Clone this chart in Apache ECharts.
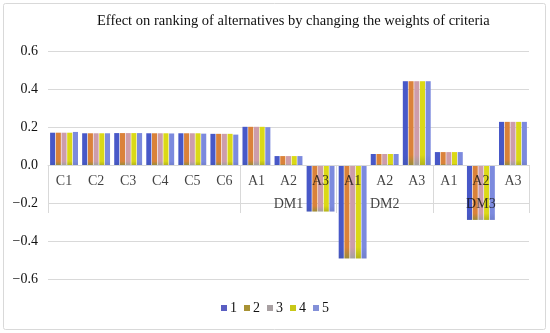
<!DOCTYPE html>
<html>
<head>
<meta charset="utf-8">
<script src="https://cdn.jsdelivr.net/npm/echarts@6/dist/echarts.min.js"></script>
<style>
html,body{margin:0;padding:0;background:#fff;}
#chart{width:550px;height:333px;}
</style>
</head>
<body>
<div id="chart"></div>
<script>
// ---- data ----
var categories = ['C1','C2','C3','C4','C5','C6','A1','A2','A3','A1','A2','A3','A1','A2','A3'];
var groupLabels = {7:'DM1', 10:'DM2', 13:'DM3'};
var groupBoundaries = [0, 6, 9, 12];
var seriesNames = ['1','2','3','4','5'];
var s1 = [0.170,0.167,0.168,0.167,0.167,0.164,0.201,0.047,-0.245,-0.492,0.058,0.441,0.068,-0.289,0.227];
var s2 = [0.170,0.167,0.168,0.167,0.167,0.164,0.201,0.047,-0.245,-0.492,0.058,0.441,0.068,-0.289,0.227];
var s3 = [0.170,0.167,0.168,0.167,0.167,0.164,0.201,0.047,-0.245,-0.492,0.058,0.441,0.068,-0.289,0.227];
var s4 = [0.170,0.167,0.168,0.167,0.167,0.164,0.201,0.047,-0.245,-0.492,0.058,0.441,0.068,-0.289,0.227];
var s5 = [0.174,0.167,0.168,0.166,0.165,0.160,0.199,0.047,-0.245,-0.492,0.058,0.441,0.068,-0.289,0.227];
var yTicks = {min:-0.6, max:0.6, interval:0.2};

var seriesData = [s1,s2,s3,s4,s5];
var mainColors = ['#4858c8','#da823a','#cd9dab','#dbd916','#7c8ade'];
var baseColors = ['#4456b8','#9c8c3a','#a4a0a0','#b4b41c','#7280cc'];
var legendColors = ['#5a5ec2','#a89234','#a8a0a2','#c8c818','#8390d8'];

function grad(i){
  return new echarts.graphic.LinearGradient(0,0,0,1,[
    {offset:0,color:mainColors[i]},
    {offset:0.88,color:mainColors[i]},
    {offset:1,color:baseColors[i]}
  ]);
}

var serif = 'Liberation Serif, Times New Roman, serif';
var chart = echarts.init(document.getElementById('chart'), null, {renderer:'canvas'});

var barSeries = seriesData.map(function(d,i){
  return {name:seriesNames[i], type:'bar', data:d, barGap:'12%', barCategoryGap:'13%',
    itemStyle:{color:grad(i)}};
});
// category labels drawn at the zero line (multi-level axis)
var labelSeries = {
  name:'labels', type:'scatter', data:categories.map(function(){return 0;}),
  symbolSize:0, silent:true, z:5,
  label:{show:true, position:'bottom', distance:5, lineHeight:23, align:'center', verticalAlign:'top',
    fontFamily:serif, fontSize:14, color:'#111',
    formatter:function(p){var c = categories[p.dataIndex]; return groupLabels[p.dataIndex] ? c + '\n' + groupLabels[p.dataIndex] : c;}}
};

var option = {
  animation:false,
  backgroundColor:'#fff',
  title:{
    text:'Effect on ranking of alternatives by changing the weights of criteria',
    left:97, top:14, padding:0,
    textStyle:{fontFamily:serif, fontSize:14.5, fontWeight:'normal', color:'#111'}
  },
  legend:{
    data: seriesNames.map(function(n,i){return {name:n, itemStyle:{color:legendColors[i]}};}),
    left:'center', top:296,
    icon:'rect', itemWidth:6, itemHeight:6, itemGap:7,
    textStyle:{fontFamily:serif, fontSize:14, color:'#111', padding:[0,0,0,-2]}
  },
  grid:{left:48, right:21, top:51, bottom:54, containLabel:false},
  xAxis:{
    type:'category', data:categories, z:3,
    axisLine:{show:true, onZero:true, lineStyle:{color:'#d9d9d9', width:1}},
    axisTick:{show:true, length:48, lineStyle:{color:'#d9d9d9'},
      interval:function(idx){return groupBoundaries.indexOf(idx) >= 0;}},
    axisLabel:{show:false},
    splitLine:{show:false}
  },
  yAxis:{
    type:'value', min:yTicks.min, max:yTicks.max, interval:yTicks.interval,
    axisLine:{show:false}, axisTick:{show:false},
    splitLine:{lineStyle:{color:'#d9d9d9', width:1}},
    axisLabel:{margin:10, fontFamily:serif, fontSize:14, color:'#111',
      formatter:function(v){return (Math.abs(v)<1e-9?0:v).toFixed(1).replace('-', '\u2212');}}
  },
  series: barSeries.concat([labelSeries]),
  graphic:[{type:'rect', shape:{x:3.5, y:3.5, width:542, height:326, r:2}, silent:true, z:-10,
    style:{fill:null, stroke:'#d9d9d9', lineWidth:1}}]
};
chart.setOption(option);
</script>
</body>
</html>
